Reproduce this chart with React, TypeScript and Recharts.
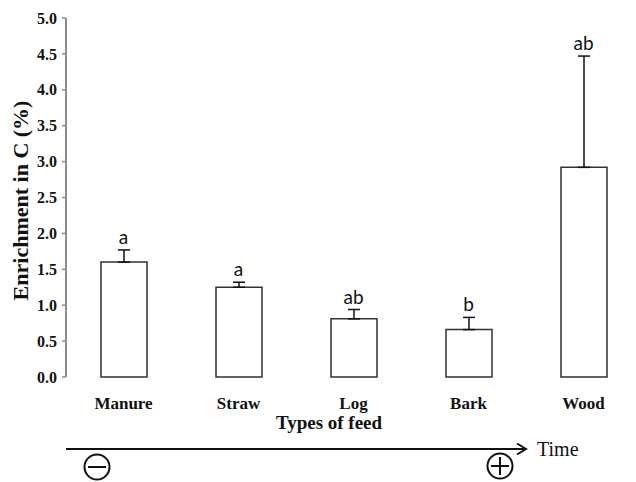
import { ComposedChart, Bar, ErrorBar, Scatter, XAxis, YAxis, Label } from 'recharts';

// values
const categories = ['Manure', 'Straw', 'Log', 'Bark', 'Wood'];
const means = [1.6, 1.25, 0.81, 0.66, 2.92];
const errors = [0.17, 0.07, 0.13, 0.17, 1.55];
const letters = ['a', 'a', 'ab', 'b', 'ab'];
const yTicks = [0, 0.5, 1, 1.5, 2, 2.5, 3, 3.5, 4, 4.5, 5];
const boundaryTicks = [0, 1, 2, 3, 4, 5];

const data = categories.map((name, i) => ({
    name,
    mean: means[i],
    err: [0, errors[i]],
    top: means[i] + errors[i],
    letter: letters[i],
}));

const AXIS = '#8c8c8c';
const SERIF = '"Liberation Serif", "Times New Roman", serif';

// letter of significance, drawn just above the error bar cap
const LetterShape = (props: any) => (
    <text
        x={props.cx}
        y={props.cy - 6}
        textAnchor="middle"
        fontFamily="Lato, sans-serif"
        fontSize={19}
        fill="#111"
    >
        {props.payload.letter}
    </text>
);

function App() {
    return (
        <div style={{ position: 'absolute', left: 0, top: 0, width: 636, height: 482, background: '#fff', overflow: 'hidden' }}>
            <div style={{ width: 608, height: 482, overflow: 'hidden' }}>
                <ComposedChart width={641} height={482} data={data} margin={{ top: 18, right: 0, bottom: 75, left: 0 }}>
                    {/* boundary tick marks between categories */}
                    <XAxis
                        xAxisId="grid"
                        type="number"
                        domain={[0, 5]}
                        ticks={boundaryTicks}
                        height={0}
                        tick={false}
                        tickSize={5}
                        axisLine={{ stroke: AXIS, strokeWidth: 2 }}
                        tickLine={{ stroke: AXIS, strokeWidth: 1.5 }}
                    />
                    <XAxis
                        xAxisId="cat"
                        dataKey="name"
                        height={30}
                        axisLine={false}
                        tickLine={false}
                        tickMargin={14}
                        interval={0}
                        tick={{ fontFamily: SERIF, fontWeight: 'bold', fontSize: 17, fill: '#111' }}
                    />
                    <YAxis
                        domain={[0, 5]}
                        ticks={yTicks}
                        width={66}
                        tickSize={4}
                        tickMargin={5}
                        tickFormatter={(v: number) => v.toFixed(1)}
                        axisLine={{ stroke: AXIS, strokeWidth: 2 }}
                        tickLine={{ stroke: AXIS, strokeWidth: 1.5 }}
                        tick={{ fontFamily: SERIF, fontWeight: 'bold', fontSize: 16, fill: '#111' }}
                    >
                        <Label
                            content={({ viewBox }: any) => {
                                const cx = viewBox.x + 28;
                                const cy = viewBox.y + viewBox.height / 2 + 3;
                                return (
                                    <text
                                        x={cx}
                                        y={cy}
                                        transform={`rotate(-90, ${cx}, ${cy})`}
                                        textAnchor="middle"
                                        fontFamily={SERIF}
                                        fontWeight="bold"
                                        fontSize={22}
                                        fill="#111"
                                    >
                                        Enrichment in C (%)
                                    </text>
                                );
                            }}
                        />
                    </YAxis>
                    <Bar xAxisId="cat" dataKey="mean" barSize={46} fill="#fff" stroke="#333" strokeWidth={1.5} isAnimationActive={false}>
                        <ErrorBar dataKey="err" direction="y" width={6} stroke="#111" strokeWidth={1.5} />
                    </Bar>
                    <Scatter xAxisId="cat" dataKey="top" shape={LetterShape} isAnimationActive={false} />
                </ComposedChart>
            </div>
            <svg width={636} height={482} style={{ position: 'absolute', left: 0, top: 0, pointerEvents: 'none' }}>
                <text x={329} y={429} textAnchor="middle" fontFamily={SERIF} fontWeight="bold" fontSize={19} fill="#111">
                    Types of feed
                </text>
                <line x1={66} y1={449} x2={526} y2={449} stroke="#111" strokeWidth={2} />
                <polyline points="517,443.5 526,449 517,454.5" fill="none" stroke="#111" strokeWidth={2} />
                <text x={537} y={456} fontFamily={SERIF} fontSize={20} fill="#111">Time</text>
                <circle cx={97} cy={467} r={12.5} fill="none" stroke="#111" strokeWidth={2} />
                <line x1={88} y1={467} x2={106} y2={467} stroke="#111" strokeWidth={2} />
                <circle cx={500} cy={466} r={12.5} fill="none" stroke="#111" strokeWidth={2} />
                <line x1={491} y1={466} x2={509} y2={466} stroke="#111" strokeWidth={2} />
                <line x1={500} y1={457} x2={500} y2={475} stroke="#111" strokeWidth={2} />
            </svg>
        </div>
    );
}

export default App;
